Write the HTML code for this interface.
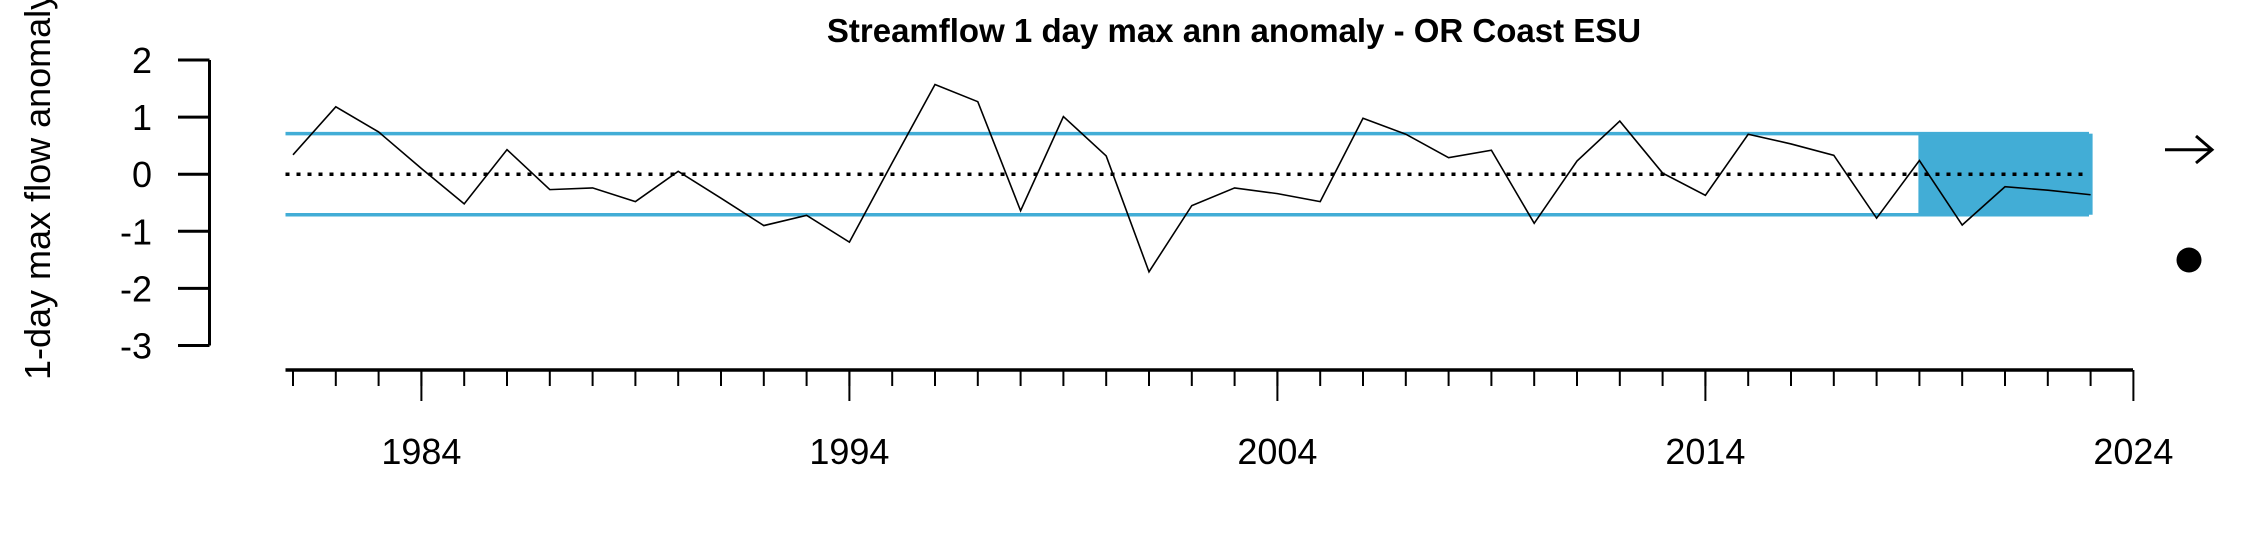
<!DOCTYPE html>
<html><head><meta charset="utf-8"><style>
html,body{margin:0;padding:0;background:#fff;}
svg{display:block;font-family:"Liberation Sans",Arial,sans-serif;}
</style></head><body>
<svg id="chart" width="2250" height="540" viewBox="0 0 2250 540" xmlns="http://www.w3.org/2000/svg">
<text x="1234" y="42" font-size="33" font-weight="bold" text-anchor="middle">Streamflow 1 day max ann anomaly - OR Coast ESU</text>
<text transform="translate(50,380) rotate(-90)" font-size="36" text-anchor="start">1-day max flow anomaly</text>
<g id="g"></g>
</svg>
<script>
const years = [1981,1982,1983,1984,1985,1986,1987,1988,1989,1990,1991,1992,1993,1994,1995,1996,1997,1998,1999,2000,2001,2002,2003,2004,2005,2006,2007,2008,2009,2010,2011,2012,2013,2014,2015,2016,2017,2018,2019,2020,2021,2022,2023];
const values = [0.34,1.18,0.74,0.1,-0.52,0.43,-0.27,-0.24,-0.48,0.05,-0.42,-0.9,-0.72,-1.19,0.2,1.57,1.27,-0.64,1.01,0.32,-1.71,-0.55,-0.24,-0.34,-0.48,0.98,0.70,0.29,0.42,-0.86,0.23,0.93,0.02,-0.37,0.70,0.53,0.33,-0.77,0.24,-0.89,-0.22,-0.28,-0.36];
const yTicks = [2,1,0,-1,-2,-3];
const xMajor = [1984,1994,2004,2014,2024];
const sdUpper = 0.71, sdLower = -0.71;
const recentStart = 2019, recentEnd = 2023;

const NS="http://www.w3.org/2000/svg";
const g=document.getElementById('g');
const X=y=>293+(y-1981)*42.8;
const Y=v=>174.2-v*57.1;
function mk(t,a){const e=document.createElementNS(NS,t);for(const k in a)e.setAttribute(k,a[k]);g.appendChild(e);return e;}

let r=mk('rect',{x:X(recentStart)-1,y:Y(sdUpper),width:X(recentEnd)-X(recentStart)+3,height:Y(sdLower)-Y(sdUpper),fill:'#42ADD6'});


let l1=mk('line',{x1:285.5,x2:2089,y1:Y(sdUpper),y2:Y(sdUpper),stroke:'#42ADD6','stroke-width':3.5});


let l2=mk('line',{x1:285.5,x2:2089,y1:Y(sdLower),y2:Y(sdLower),stroke:'#42ADD6','stroke-width':3.5});


let z=mk('line',{x1:285.5,x2:2089,y1:Y(0),y2:Y(0),stroke:'#000','stroke-width':3.5,'stroke-dasharray':'4 7'});


let p=mk('polyline',{points:years.map((y,i)=>X(y)+','+Y(values[i])).join(' '),fill:'none',stroke:'#000','stroke-width':1.6});



let ya=mk('line',{x1:209.5,x2:209.5,y1:Y(2),y2:Y(-3),stroke:'#000','stroke-width':3});


yTicks.forEach(v=>{
  let t=mk('line',{x1:178,x2:209.5,y1:Y(v),y2:Y(v),stroke:'#000','stroke-width':3});
  
  
  let tx=mk('text',{x:152,y:Y(v)+13,'font-size':36,'text-anchor':'end'});
  tx.textContent=String(v);
  
  
});
let xa=mk('line',{x1:285.5,x2:2133,y1:370,y2:370,stroke:'#000','stroke-width':3.5});


years.forEach(y=>{
  let t=mk('line',{x1:X(y),x2:X(y),y1:370,y2:386,stroke:'#000','stroke-width':2});
  
  
});
xMajor.forEach(y=>{
  let t=mk('line',{x1:X(y),x2:X(y),y1:370,y2:401,stroke:'#000','stroke-width':2});
  
  
  let tx=mk('text',{x:X(y),y:464,'font-size':36,'text-anchor':'middle'});
  tx.textContent=String(y);
  
  
});
let ar=mk('path',{d:'M2165,149.7 H2212 M2196,136 L2212,149.7 L2196,163',fill:'none',stroke:'#000','stroke-width':3});


let dt=mk('circle',{cx:2189,cy:260,r:12.5,fill:'#000'});


</script>
</body></html>
